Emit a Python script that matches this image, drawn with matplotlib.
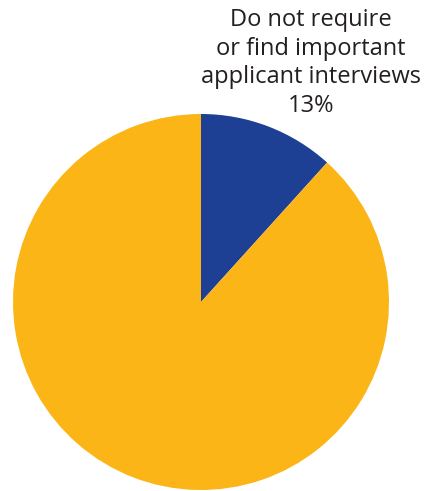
import matplotlib
matplotlib.use("Agg")
import matplotlib.pyplot as plt

categories = ["Do not require\nor find important\napplicant interviews", "Other"]
shares = [11.7, 88.3]          # slice sizes as drawn in the picture
label_pct = ["13%", ""]        # printed labels
colors = ["#1D4094", "#FBB517"]

plt.rcParams['font.family'] = ['Open Sans', 'DejaVu Sans']

W, H = 426, 491
fig = plt.figure(figsize=(W / 100, H / 100), dpi=100)
cx, cy, r = 201, 302, 188
ax = fig.add_axes([(cx - r) / W, (H - cy - r) / H, 2 * r / W, 2 * r / H])
ax.pie(shares, colors=colors, startangle=90, counterclock=False, radius=1.0,
       wedgeprops=dict(linewidth=0))
ax.set_xlim(-1, 1)
ax.set_ylim(-1, 1)
ax.set_aspect('equal')
ax.axis('off')

fig.text(311 / W, 1 - 63 / H, categories[0] + "\n" + label_pct[0],
         ha='center', va='center', fontsize=17, color='#231F20',
         linespacing=1.27)

fig.savefig("out.png", dpi=100)
